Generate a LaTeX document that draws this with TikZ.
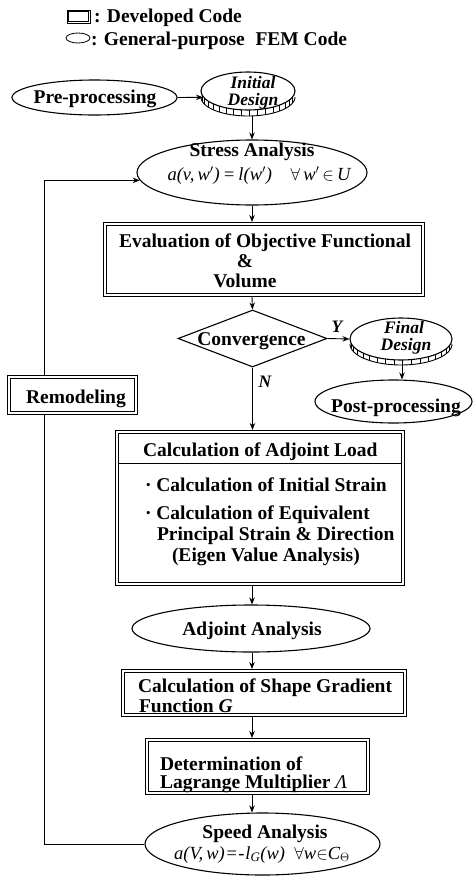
\documentclass[tikz,border=0pt]{standalone}
\usepackage{fontspec}
\setmainfont{Liberation Serif}
\usetikzlibrary{shapes.geometric,arrows.meta}
\newcommand{\bodyfont}{\fontsize{19.5}{20}\selectfont\bfseries}
\newcommand{\coinfont}{\fontsize{17.5}{16}\selectfont\bfseries\itshape}
\newcommand{\mathtxt}{\fontsize{18.5}{20}\selectfont\mdseries\itshape}
\begin{document}
\begin{tikzpicture}[x=1pt,y=-1pt,
  ell/.style={draw, ellipse, line width=1.1pt, inner sep=0pt},
  dbox/.style={draw, rectangle, line width=1pt, inner sep=0pt},
  inner/.style={line width=0.8pt},
  dmd/.style={draw, diamond, line width=1.1pt, inner sep=0pt},
  txt/.style={inner sep=0pt, outer sep=0pt, font=\bodyfont},
  ctxt/.style={inner sep=0pt, outer sep=0pt, font=\coinfont},
  arr/.style={line width=0.9pt, -{Stealth[length=7pt,width=5.5pt]}},
  conn/.style={line width=0.9pt},
  hatch/.style={line width=0.6pt}]
\useasboundingbox (0,0) rectangle (475,876);

% legend
\node[dbox, line width=0.8pt, minimum width=23pt, minimum height=13pt] (lgR) at (78.5,16.5) {};
\draw[line width=0.6pt] ([shift={(1.8pt,-1.8pt)}]lgR.north west) rectangle ([shift={(-1.8pt,1.8pt)}]lgR.south east);
\node[txt, anchor=base west] (lg1) at (94,22) {: Developed Code};
\node[ell, line width=0.8pt, minimum width=24pt, minimum height=10pt] (lgE) at (78,38) {};
\node[txt, anchor=base west] (lg2) at (91,45) {: General-purpose\hspace{0.55em}FEM Code};

% shapes
\node[ell, minimum width=165pt, minimum height=35pt] (Pre) at (94.5,97.5) {};
\node[txt, anchor=base] (tPre) at (95,103) {Pre-processing};

\node[ell, minimum width=94pt, minimum height=38pt] (Init) at (248,91) {};
\draw[line width=0.9pt] plot[domain=0:180, samples=40] ({248+47*cos(\x)}, {97+19*sin(\x)});
\foreach \a in {18,28,...,168} \draw[hatch] ({248+47*cos(\a)},{91+19*sin(\a)}) -- ++(0,6);
\node[ctxt, anchor=base] (tInit1) at (253,88) {Initial};
\node[ctxt, anchor=base] (tInit2) at (253,105) {Design};
\coordinate (initb) at (252,116);

\node[ell, minimum width=230pt, minimum height=65pt] (Stress) at (252,172.5) {};
\node[txt, anchor=base] (tSt1) at (252,156) {Stress Analysis};
\node[inner sep=0pt, anchor=base, font=\mathtxt] (tSt2) at (259,180) {a(v,\,w$'$)\,=\,l(w$'$)\quad$\forall$\,w$'$\,$\in$\,U};

\node[dbox, minimum width=321pt, minimum height=74pt] (Eval) at (264,259.5) {};
\node[txt, anchor=base] (tEv1) at (265,247) {Evaluation of Objective Functional};
\node[txt, anchor=base] (tEv2) at (245,267) {\&};
\node[txt, anchor=base] (tEv3) at (245,287) {Volume};

\node[dmd, minimum width=149pt, minimum height=57pt] (Conv) at (252.5,338.5) {};
\node[txt, anchor=base] (tConv) at (251.5,345) {Convergence};

\node[ell, minimum width=102pt, minimum height=42pt] (Final) at (401,339) {};
\draw[line width=0.9pt] plot[domain=0:180, samples=40] ({401+51*cos(\x)}, {344+21*sin(\x)});
\foreach \a in {18,28,...,168} \draw[hatch] ({401+51*cos(\a)},{339+21*sin(\a)}) -- ++(0,5);
\node[ctxt, anchor=base] (tFin1) at (404,333) {Final};
\node[ctxt, anchor=base] (tFin2) at (406,350) {Design};
\coordinate (finb) at (402,364);

\node[ell, minimum width=157pt, minimum height=43pt] (Post) at (393.5,401.5) {};
\node[txt, anchor=base] (tPost) at (396,412) {Post-processing};

\node[dbox, minimum width=130pt, minimum height=39pt] (Remod) at (72.5,395) {};
\node[txt, anchor=base] (tRem) at (76,403) {Remodeling};

\node[dbox, minimum width=289pt, minimum height=155pt] (Adj) at (260,508) {};
\draw[inner] (119,463) -- (401,463);
\node[txt, anchor=base west] (tAd0) at (143,456) {Calculation of Adjoint Load};
\node[txt, anchor=base west] (tAd1) at (145,491) {· Calculation of Initial Strain};
\node[txt, anchor=base west] (tAd2) at (145,519) {· Calculation of Equivalent};
\node[txt, anchor=base west] (tAd3) at (157,540) {Principal Strain \& Direction};
\node[txt, anchor=base west] (tAd4) at (172,561) {(Eigen Value Analysis)};

\node[ell, minimum width=238pt, minimum height=47pt] (AdjA) at (251,628.5) {};
\node[txt, anchor=base] (tAdA) at (252,635) {Adjoint Analysis};

\node[dbox, minimum width=285pt, minimum height=47pt] (Shape) at (264,693) {};
\node[txt, anchor=base west] (tSh1) at (138,692) {Calculation of Shape Gradient};
\node[txt, anchor=base west] (tSh2) at (139,712) {Function \textit{G}};

\node[dbox, minimum width=224pt, minimum height=56pt] (Det) at (257.5,766.5) {};
\node[txt, anchor=base west] (tDe1) at (160,770) {Determination of};
\node[txt, anchor=base west] (tDe2) at (160,788) {Lagrange Multiplier {\mdseries\itshape Λ}};

% inner frames of the developed-code boxes
\foreach \n in {Eval,Remod,Adj,Shape,Det}
  \draw[inner] ([shift={(3.5pt,-3.5pt)}]\n.north west) rectangle ([shift={(-3.5pt,3.5pt)}]\n.south east);

\node[ell, minimum width=235pt, minimum height=62pt] (Speed) at (262.5,844) {};
\node[txt, anchor=base] (tSp1) at (265,838) {Speed Analysis};
\node[inner sep=0pt, anchor=base, font=\mathtxt] (tSp2) at (262,859) {a(V,\,w)\kern0.5pt=\kern0.5pt-\kern1pt l\textsubscript{G}(w)\enspace$\forall$w$\in$C\textsubscript{$\Theta$}};

% connectors
\coordinate (mx) at (252,0);
\coordinate (lx) at (44,0);
\draw[arr] (Pre.east) -- (Init.188);
\draw[arr] (initb) -- (mx |- Stress.north);
\draw[arr] (mx |- Stress.south) -- (mx |- Eval.north);
\draw[arr] (mx |- Eval.south) -- (Conv.north);
\draw[arr] (Conv.east) -- (Final.west);
\node[ctxt, anchor=base] (tY) at (337,332) {Y};
\draw[arr] (finb) -- (finb |- Post.north);
\draw[arr] (Conv.south) -- (Conv.south |- Adj.north);
\node[ctxt, anchor=base] (tN) at (265,387) {N};
\draw[arr] (mx |- Adj.south) -- (mx |- AdjA.north);
\draw[arr] (mx |- AdjA.south) -- (mx |- Shape.north);
\draw[arr] (mx |- Shape.south) -- (mx |- Det.north);
\draw[arr] (mx |- Det.south) -- (mx |- Speed.north);
\draw[conn] (Speed.west) -- (lx |- Speed.west) -- (lx |- Remod.south);
\draw[arr] (lx |- Remod.north) -- (lx |- Stress.184) -- (Stress.184);
\end{tikzpicture}
\end{document}
